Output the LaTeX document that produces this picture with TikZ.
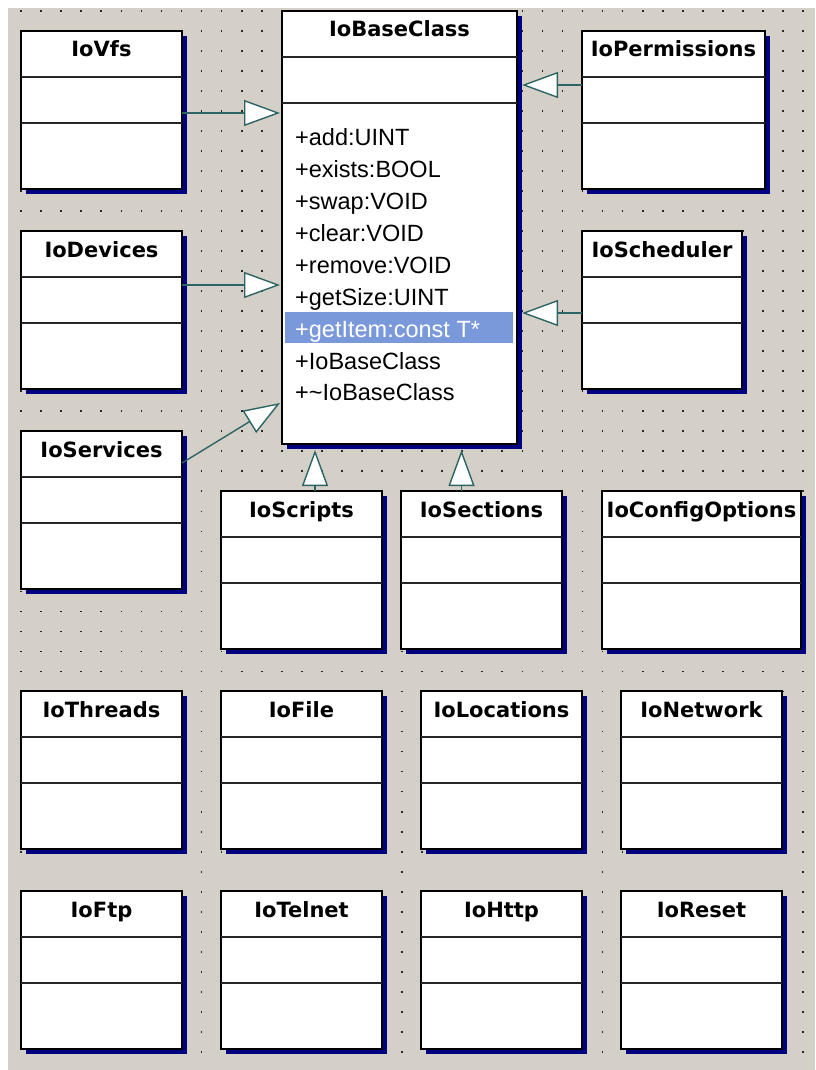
\documentclass[tikz,border=0pt]{standalone}
\usepackage{fontspec}
\setmainfont{Liberation Sans}
\newfontfamily\titlefont{DejaVu Sans}
\usetikzlibrary{shadows}
\usetikzlibrary{arrows.meta}
\usetikzlibrary{calc}

\definecolor{panelgray}{RGB}{212,208,200}
\definecolor{shadownavy}{RGB}{0,0,128}
\definecolor{linkteal}{RGB}{45,100,100}
\definecolor{selblue}{RGB}{122,153,219}
\definecolor{dotgray}{RGB}{40,40,40}

\tikzset{
	classnode/.style={draw=black, line width=1.4pt, fill=white, anchor=north west, inner sep=0pt, outer sep=0pt,
		drop shadow={shadow xshift=5pt, shadow yshift=-5pt, fill=shadownavy, opacity=1}},
	compline/.style={draw=black!85, line width=1.2pt},
	classtitle/.style={anchor=base, inner sep=0pt, font=\titlefont\bfseries\fontsize{21}{25}\selectfont},
	opline/.style={anchor=base west, inner sep=0pt, font=\fontsize{23.5}{28}\selectfont},
	inherit/.style={draw=linkteal, line width=1.4pt, -{Triangle[length=36pt, width=26pt, fill=white]}},
	griddot/.style={fill=dotgray}
}

% name, top left corner, width, height, title
\newcommand{\classbox}[5]{
	\node[classnode, minimum width=#3pt, minimum height=#4pt] (#1) at (#2) {};
	\draw[compline] ([yshift=-46pt]#1.north west) -- ([yshift=-46pt]#1.north east);
	\draw[compline] ([yshift=-92pt]#1.north west) -- ([yshift=-92pt]#1.north east);
	\node[classtitle] (#1-name) at ([yshift=-26pt]#1.north) {#5};
}

\begin{document}
\begin{tikzpicture}[x=1pt, y=-1pt]
	\fill[white] (0,0) rectangle (815,1070);
	\fill[panelgray] (8,8) rectangle (815,1070);
	\foreach \gx in {1,...,40}
		\foreach \gy in {0,...,42}
			\fill[griddot] (\gx*20.05+0.2, \gy*20.02+10) rectangle ++(1.7,1.7);
	\foreach \gx in {10,20,30,40}
		\foreach \gy in {43,...,52}
			\fill[griddot] (\gx*20.05+0.2, \gy*20.02+10) rectangle ++(1.7,1.7);

	\classbox{base}{282,11}{235}{433}{IoBaseClass}
	\classbox{vfs}{21,31}{161}{158}{IoVfs}
	\classbox{devices}{21,231}{161}{158}{IoDevices}
	\classbox{services}{21,431}{161}{158}{IoServices}
	\classbox{perm}{582,31}{183}{158}{IoPermissions}
	\classbox{sched}{582,231}{160}{158}{IoScheduler}
	\classbox{scripts}{221,491}{161}{158}{IoScripts}
	\classbox{sections}{401,491}{161}{158}{IoSections}
	\classbox{config}{602,491}{199}{158}{IoConfigOptions}
	\classbox{threads}{21,691}{161}{158}{IoThreads}
	\classbox{file}{221,691}{161}{158}{IoFile}
	\classbox{locations}{421,691}{161}{158}{IoLocations}
	\classbox{network}{621,691}{161}{158}{IoNetwork}
	\classbox{ftp}{21,891}{161}{158}{IoFtp}
	\classbox{telnet}{221,891}{161}{158}{IoTelnet}
	\classbox{http}{421,891}{161}{158}{IoHttp}
	\classbox{reset}{621,891}{161}{158}{IoReset}

	% selected operation
	\fill[selblue] ($(base.north west)+(3,301.3)$) rectangle ($(base.north east)+(-4,332.3)$);
	\foreach \i/\op/\tc in {0/+add:UINT/black, 1/+exists:BOOL/black, 2/+swap:VOID/black, 3/+clear:VOID/black,
		4/+remove:VOID/black, 5/+getSize:UINT/black, 6/+getItem:const T*/white, 7/+IoBaseClass/black, 8/+\string~IoBaseClass/black}
		\node[opline, text=\tc] (op\i) at ($(base.north west)+(13,134.7+\i*31.9)$) {\op};

	\coordinate (vfsOut) at ([yshift=-82pt]vfs.north east);
	\coordinate (devOut) at ([yshift=-54pt]devices.north east);
	\coordinate (permOut) at ([yshift=-54pt]perm.north west);
	\coordinate (schedOut) at ([yshift=-82pt]sched.north west);
	\coordinate (scrOut) at ($(scripts.north west)+(94,0)$);
	\coordinate (secOut) at ($(sections.north west)+(60.5,0)$);

	\draw[inherit, shorten >=2pt] (vfsOut) -- (vfsOut -| base.west);
	\draw[inherit, shorten >=2pt] (devOut) -- (devOut -| base.west);
	\draw[inherit] ([yshift=-32pt]services.north east) -- ([xshift=-2pt, yshift=41pt]base.south west);
	\draw[inherit] (permOut) -- ($(permOut -| base.east)+(5,0)$);
	\draw[inherit] (schedOut) -- ($(schedOut -| base.east)+(5,0)$);
	\draw[inherit] (scrOut) -- ($(scrOut |- base.south)+(0,6)$);
	\draw[inherit] (secOut) -- ($(secOut |- base.south)+(0,6)$);
\end{tikzpicture}
\end{document}
